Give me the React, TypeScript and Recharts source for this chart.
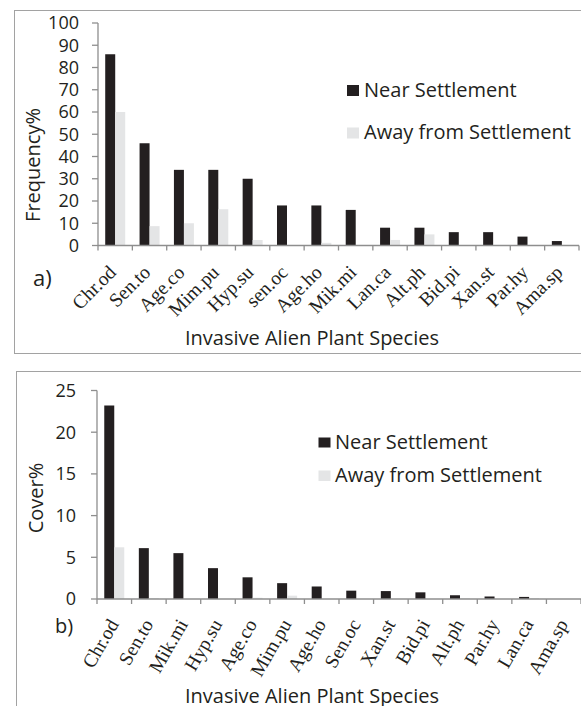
import React from "react";
import { BarChart, Bar, XAxis, YAxis } from "recharts";

// panel a) frequency
const speciesA = ["Chr.od", "Sen.to", "Age.co", "Mim.pu", "Hyp.su", "sen.oc", "Age.ho", "Mik.mi", "Lan.ca", "Alt.ph", "Bid.pi", "Xan.st", "Par.hy", "Ama.sp"];
const nearA = [86, 46, 34, 34, 30, 18, 18, 16, 8, 8, 6, 6, 4, 2];
const awayA = [60, 8.7, 10, 16.3, 2.5, 0, 1.2, 0, 2.5, 5, 0, 0, 0, 0];
const freqTicks = [0, 10, 20, 30, 40, 50, 60, 70, 80, 90, 100];

// panel b) cover
const speciesB = ["Chr.od", "Sen.to", "Mik.mi", "Hyp.su", "Age.co", "Mim.pu", "Age.ho", "Sen.oc", "Xan.st", "Bid.pi", "Alt.ph", "Par.hy", "Lan.ca", "Ama.sp"];
const nearB = [23.2, 6.1, 5.5, 3.7, 2.6, 1.9, 1.5, 1.0, 0.95, 0.8, 0.45, 0.3, 0.25, 0];
const awayB = [6.2, 0.1, 0, 0, 0.15, 0.4, 0, 0, 0, 0, 0.1, 0, 0.1, 0];
const coverTicks = [0, 5, 10, 15, 20, 25];

const BLACK = "#231f20";
const LIGHT = "#e4e5e6";
const AXIS = "#8e8e8e";
const FRAME = "#a2a2a2";
const SANS = "'Open Sans', sans-serif";
const SERIF = "'Liberation Serif', serif";

const rowsA = speciesA.map((s, i) => ({ species: s, near: nearA[i], away: awayA[i] }));
const rowsB = speciesB.map((s, i) => ({ species: s, near: nearB[i], away: awayB[i] }));

function SpeciesTick(props: any) {
  const { x, y, payload, index, bw, count, angle, dx, dy } = props;
  const tx = x + dx;
  const ty = y + dy;
  return (
    <g>
      <line x1={x - bw / 2} y1={y} x2={x - bw / 2} y2={y + 5} stroke={AXIS} strokeWidth={1.3} />
      {index === count - 1 && (
        <line x1={x + bw / 2} y1={y} x2={x + bw / 2} y2={y + 5} stroke={AXIS} strokeWidth={1.3} />
      )}
      <text x={tx} y={ty} transform={`rotate(${angle}, ${tx}, ${ty})`} textAnchor="end" fontFamily={SERIF} fontSize={19.5} fill={BLACK}>
        {payload.value}
      </text>
    </g>
  );
}

const yTick = { fontFamily: SANS, fontSize: 18, fill: BLACK };

export default function App() {
  const bwA = (579 - 98) / speciesA.length;
  const bwB = (581 - 97) / speciesB.length;
  return (
    <div style={{ position: "absolute", left: 0, top: 0, width: 581, height: 706, overflow: "hidden", background: "#fff" }}>
      <div style={{ position: "absolute", left: 14, top: 10, width: 600, height: 342, borderTop: `1.5px solid ${FRAME}`, borderLeft: `1.5px solid ${FRAME}`, borderBottom: `1.5px solid ${FRAME}` }} />
      <div style={{ position: "absolute", left: 16, top: 371, width: 600, height: 400, borderTop: `1.5px solid ${FRAME}`, borderLeft: `1.5px solid ${FRAME}` }} />

      <div style={{ position: "absolute", left: 0, top: 0 }}>
        <BarChart width={581} height={360} data={rowsA} margin={{ top: 23, right: 2, left: 0, bottom: 0 }} barCategoryGap="21%" barGap={0}>
          <XAxis
            dataKey="species"
            height={114.5}
            interval={0}
            tickSize={0}
            tickMargin={0}
            axisLine={{ stroke: AXIS, strokeWidth: 1.3 }}
            tickLine={false}
            tick={(p: any) => <SpeciesTick {...p} bw={bwA} count={speciesA.length} angle={-45} dx={2} dy={28} />}
          />
          <YAxis
            width={98}
            domain={[0, 100]}
            ticks={freqTicks}
            interval={0}
            tickSize={6}
            tickMargin={13}
            axisLine={{ stroke: AXIS, strokeWidth: 1.3 }}
            tickLine={{ stroke: AXIS, strokeWidth: 1.3 }}
            tick={yTick}
          />
          <Bar dataKey="near" fill={BLACK} isAnimationActive={false} />
          <Bar dataKey="away" fill={LIGHT} isAnimationActive={false} />
        </BarChart>
      </div>

      <div style={{ position: "absolute", left: 0, top: 360 }}>
        <BarChart width={581} height={346} data={rowsB} margin={{ top: 30.5, right: 0, left: 0, bottom: 0 }} barCategoryGap="21%" barGap={0}>
          <XAxis
            dataKey="species"
            height={107}
            interval={0}
            tickSize={0}
            tickMargin={0}
            axisLine={{ stroke: AXIS, strokeWidth: 1.3 }}
            tickLine={false}
            tick={(p: any) => <SpeciesTick {...p} bw={bwB} count={speciesB.length} angle={-60} dx={5} dy={25} />}
          />
          <YAxis
            width={97}
            domain={[0, 25]}
            ticks={coverTicks}
            interval={0}
            tickSize={6}
            tickMargin={15}
            axisLine={{ stroke: AXIS, strokeWidth: 1.3 }}
            tickLine={{ stroke: AXIS, strokeWidth: 1.3 }}
            tick={yTick}
          />
          <Bar dataKey="near" fill={BLACK} isAnimationActive={false} />
          <Bar dataKey="away" fill={LIGHT} isAnimationActive={false} />
        </BarChart>
      </div>

      <svg width={581} height={706} style={{ position: "absolute", left: 0, top: 0, pointerEvents: "none" }}>
        <g fontFamily={SANS} fill={BLACK}>
          <rect x={347} y={85} width={12} height={11} fill={BLACK} />
          <text x={364} y={97} fontSize={20}>Near Settlement</text>
          <rect x={347} y={127.5} width={12} height={11} fill={LIGHT} />
          <text x={364} y={138.5} fontSize={20}>Away from Settlement</text>
          <text x={33} y={286} fontSize={22}>a)</text>
          <text transform="translate(39.5,165) rotate(-90)" textAnchor="middle" fontSize={20}>Frequency%</text>
          <text x={185} y={345} fontSize={20}>Invasive Alien Plant Species</text>

          <rect x={318.5} y={437.5} width={12} height={10} fill={BLACK} />
          <text x={335} y={448.5} fontSize={20}>Near Settlement</text>
          <rect x={318.5} y={470.5} width={12} height={10.5} fill={LIGHT} />
          <text x={335} y={481.5} fontSize={20}>Away from Settlement</text>
          <text x={55} y={633} fontSize={20}>b)</text>
          <text transform="translate(42.5,498) rotate(-90)" textAnchor="middle" fontSize={20}>Cover%</text>
          <text x={185} y={703} fontSize={20}>Invasive Alien Plant Species</text>
        </g>
      </svg>
    </div>
  );
}
